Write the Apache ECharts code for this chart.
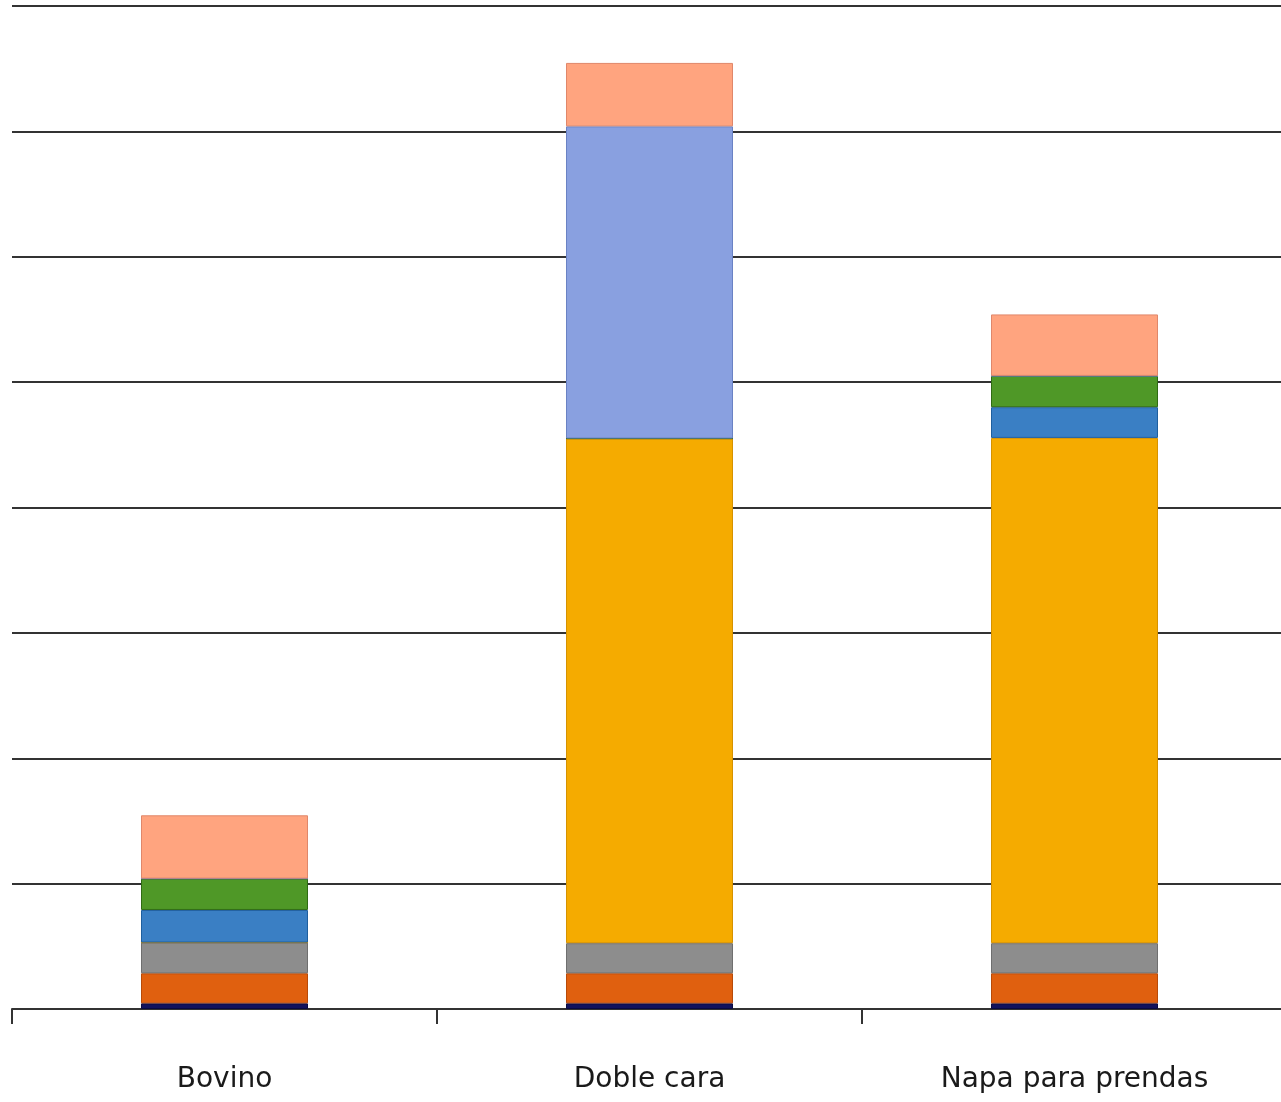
<!DOCTYPE html>
<html>
<head>
<meta charset="utf-8">
<script src="https://cdn.jsdelivr.net/npm/echarts@6/dist/echarts.min.js"></script>
<style>
html,body{margin:0;padding:0;background:#fff;}
#chart{width:1281px;height:1102px;}
</style>
</head>
<body>
<div id="chart"></div>
<script>
const categories = ['Bovino', 'Doble cara', 'Napa para prendas'];
const seriesNames = ['S1', 'S2', 'S3', 'S4', 'S5', 'S6', 'S7', 'S8'];
const navyVals      = [0.045, 0.045, 0.045];
const orangeVals    = [0.24, 0.24, 0.24];
const greyVals      = [0.245, 0.24, 0.24];
const yellowVals    = [0, 4.025, 4.03];
const blueVals      = [0.26, 0, 0.245];
const greenVals     = [0.25, 0, 0.25];
const lightBlueVals = [0, 2.49, 0];
const salmonVals    = [0.505, 0.506, 0.49];
const yTicks = [0, 1, 2, 3, 4, 5, 6, 7, 8];

const colors = ['#12135e', '#e0600f', '#8d8d8d', '#f5ab00', '#3a7fc4', '#4f9827', '#89a0e0', '#ffa47f'];
const borders = ['#0a0a40', '#b84a08', '#6f6f6f', '#d69200', '#1f5f9e', '#2f6b14', '#6a82c4', '#e0876a'];
const valueSets = [navyVals, orangeVals, greyVals, yellowVals, blueVals, greenVals, lightBlueVals, salmonVals];

const chart = echarts.init(document.getElementById('chart'));
chart.setOption({
  animation: false,
  backgroundColor: '#fff',
  grid: { left: 12, top: 6, width: 1275, bottom: 93, containLabel: false, outerBoundsMode: 'none' },
  xAxis: {
    type: 'category',
    data: categories,
    axisLine: { show: true, lineStyle: { color: '#333', width: 2 } },
    axisTick: { show: true, length: 15, lineStyle: { color: '#333', width: 2 } },
    axisLabel: { margin: 57, fontSize: 28, color: '#1a1a1a', fontFamily: 'DejaVu Sans' }
  },
  yAxis: {
    type: 'value',
    min: yTicks[0],
    max: yTicks[yTicks.length - 1],
    interval: 1,
    axisLabel: { show: false },
    axisLine: { show: false },
    axisTick: { show: false },
    splitLine: { show: true, lineStyle: { color: '#333', width: 2 } }
  },
  series: valueSets.map((vals, i) => ({
    name: seriesNames[i],
    type: 'bar',
    stack: 'total',
    barWidth: 167,
    data: vals,
    itemStyle: { color: colors[i], borderColor: borders[i], borderWidth: 1 }
  }))
});
</script>
</body>
</html>
